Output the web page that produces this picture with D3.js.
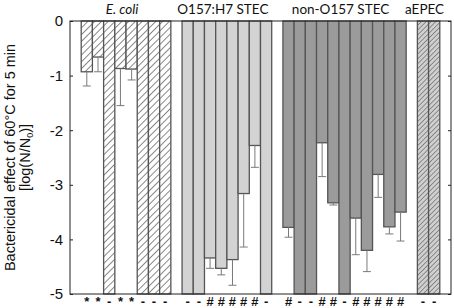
<!DOCTYPE html>
<html>
<head>
<meta charset="utf-8">
<script src="https://cdn.jsdelivr.net/npm/d3@7"></script>
<style>
  body { margin: 0; background: #fff; }
  svg { display: block; }
  .tick-label { font-family: "Liberation Sans", Arial, sans-serif; font-size: 15px; fill: #111; }
  .group-label { font-family: Lato, "Open Sans", sans-serif; font-size: 13.5px; fill: #111; }
  .mark { font-family: "Liberation Sans", Arial, sans-serif; font-size: 13px; font-weight: bold; fill: #111; }
  .axis-title { font-family: "Liberation Sans", Arial, sans-serif; font-size: 14.5px; fill: #111; }
</style>
</head>
<body>
<div id="chart"></div>
<script>
// Data (log reduction after 5 min at 60 °C)
const groups = ["E. coli", "O157:H7 STEC", "non-O157 STEC", "aEPEC"];
const groupStyle = ["hatch", "light", "dark", "hatchGray"];

const ecoliValues  = [-0.93, -0.66, -5, -0.87, -0.88, -5, -5, -5];
const ecoliErrLow  = [-1.19, -0.93, null, -1.55, -1.08, null, null, null];
const ecoliMarks   = ["*", "*", "-", "*", "*", "-", "-", "-"];

const o157Values   = [-5, -5, -4.34, -4.53, -4.37, -3.16, -2.28, -5];
const o157ErrLow   = [null, null, -4.53, -4.65, -4.84, -4.14, -2.68, null];
const o157Marks    = ["-", "-", "#", "#", "#", "#", "#", "-"];

const nonO157Values = [-3.78, -5, -5, -2.23, -3.33, -5, -3.61, -4.2, -2.81, -3.77, -3.5];
const nonO157ErrLow = [-3.96, null, null, -2.85, -3.37, null, -4.28, -4.59, -3.23, -3.9, -4.03];
const nonO157Marks  = ["#", "-", "-", "#", "#", "-", "#", "#", "#", "#", "#"];

const aepecValues  = [-5, -5];
const aepecErrLow  = [null, null];
const aepecMarks   = ["-", "-"];

const yTicks = [0, -1, -2, -3, -4, -5];

// build one row per bar, with an empty slot between groups
const seriesValues = [ecoliValues, o157Values, nonO157Values, aepecValues];
const seriesErr = [ecoliErrLow, o157ErrLow, nonO157ErrLow, aepecErrLow];
const seriesMarks = [ecoliMarks, o157Marks, nonO157Marks, aepecMarks];

const bars = [];
const groupSlots = [];
let slot = 1;
seriesValues.forEach((vals, g) => {
    const start = slot;
    vals.forEach((v, i) => {
        bars.push({group: g, slot: slot, value: v, err: seriesErr[g][i], mark: seriesMarks[g][i]});
        slot++;
    });
    groupSlots.push([start, slot - 1]);
    slot++;
});
const nSlots = slot;

// 1. Dimensions
const W = 454, H = 308;
const plot = {left: 70, right: 451, top: 21, bottom: 294};

const svg = d3.select("#chart")
    .append("svg")
        .attr("width", W)
        .attr("height", H);

// hatch patterns
const defs = svg.append("defs");
const p1 = defs.append("pattern")
    .attr("id", "hatch")
    .attr("patternUnits", "userSpaceOnUse")
    .attr("width", 4.8).attr("height", 4.8)
    .attr("patternTransform", "rotate(45)");
p1.append("rect").attr("width", 4.8).attr("height", 4.8).attr("fill", "#fff");
p1.append("line").attr("x1", 0).attr("y1", 0).attr("x2", 0).attr("y2", 4.8)
    .attr("stroke", "#111").attr("stroke-width", 1);

const p2 = defs.append("pattern")
    .attr("id", "hatchGray")
    .attr("patternUnits", "userSpaceOnUse")
    .attr("width", 3.4).attr("height", 3.4)
    .attr("patternTransform", "rotate(45)");
p2.append("rect").attr("width", 3.4).attr("height", 3.4).attr("fill", "#d0d0d0");
p2.append("line").attr("x1", 0).attr("y1", 0).attr("x2", 0).attr("y2", 3.4)
    .attr("stroke", "#222").attr("stroke-width", 0.8);

const fills = {hatch: "url(#hatch)", light: "#d3d3d3", dark: "#9b9b9b", hatchGray: "url(#hatchGray)"};

// 2. Scales
const x = d3.scaleBand()
    .domain(d3.range(nSlots))
    .range([plot.left, plot.right])
    .padding(0);

const y = d3.scaleLinear()
    .domain([-5, 0])
    .range([plot.bottom, plot.top]);

// 3. Bars
svg.append("g")
    .selectAll("rect")
    .data(bars)
    .enter().append("rect")
        .attr("x", d => x(d.slot))
        .attr("y", y(0))
        .attr("width", x.bandwidth())
        .attr("height", d => y(d.value) - y(0))
        .attr("fill", d => fills[groupStyle[d.group]])
        .attr("stroke", "#555")
        .attr("stroke-width", 1.3);

// error bars (downward)
const errs = svg.append("g")
    .attr("stroke", "#7a7a7a")
    .attr("stroke-width", 1)
    .selectAll("g")
    .data(bars.filter(d => d.err !== null))
    .enter().append("g");

errs.append("line")
    .attr("x1", d => x(d.slot) + x.bandwidth() / 2)
    .attr("x2", d => x(d.slot) + x.bandwidth() / 2)
    .attr("y1", d => y(d.value))
    .attr("y2", d => y(d.err));

errs.append("line")
    .attr("x1", d => x(d.slot) + x.bandwidth() / 2 - 4)
    .attr("x2", d => x(d.slot) + x.bandwidth() / 2 + 4)
    .attr("y1", d => y(d.err))
    .attr("y2", d => y(d.err));

// 4. Frame and axes (inward ticks on both sides)
svg.append("rect")
    .attr("x", plot.left)
    .attr("y", plot.top)
    .attr("width", plot.right - plot.left)
    .attr("height", plot.bottom - plot.top)
    .attr("fill", "none")
    .attr("stroke", "#222")
    .attr("stroke-width", 1);

const yAxisL = svg.append("g")
    .attr("transform", `translate(${plot.left},0)`)
    .call(d3.axisRight(y).tickValues(yTicks).tickSize(3).tickFormat(""));
const yAxisR = svg.append("g")
    .attr("transform", `translate(${plot.right},0)`)
    .call(d3.axisLeft(y).tickValues(yTicks).tickSize(3).tickFormat(""));
[yAxisL, yAxisR].forEach(a => {
    a.select(".domain").remove();
    a.selectAll("line").attr("stroke", "#222");
});

svg.append("g")
    .selectAll("text")
    .data(yTicks)
    .enter().append("text")
        .attr("class", "tick-label")
        .attr("x", 63)
        .attr("y", d => y(d))
        .attr("dy", "0.36em")
        .attr("text-anchor", "end")
        .text(d => d === 0 ? "0" : "-" + Math.abs(d));

// group labels
svg.append("g")
    .selectAll("text")
    .data(groups)
    .enter().append("text")
        .attr("class", "group-label")
        .attr("x", (d, i) => (x(groupSlots[i][0]) + x(groupSlots[i][1]) + x.bandwidth()) / 2 - 4)
        .attr("y", 14)
        .attr("text-anchor", "middle")
        .style("font-style", (d, i) => i === 0 ? "italic" : "normal")
        .text(d => d);

// significance marks under bars
svg.append("g")
    .selectAll("text")
    .data(bars)
    .enter().append("text")
        .attr("class", "mark")
        .attr("x", d => x(d.slot) + x.bandwidth() / 2)
        .attr("y", 306)
        .attr("text-anchor", "middle")
        .text(d => d.mark);

// y axis title
const title = svg.append("text")
    .attr("class", "axis-title")
    .attr("transform", `translate(15,${(plot.top + plot.bottom) / 2}) rotate(-90)`)
    .attr("text-anchor", "middle");
title.append("tspan").attr("x", 0).attr("y", 0).text("Bactericidal effect of 60°C for 5 min");
const l2 = title.append("tspan").attr("x", 0).attr("y", 15).text("[log(N/N");
l2.append("tspan").attr("font-size", "9px").attr("dy", 3).text("0");
l2.append("tspan").attr("dy", -3).text(")]");
</script>
</body>
</html>
